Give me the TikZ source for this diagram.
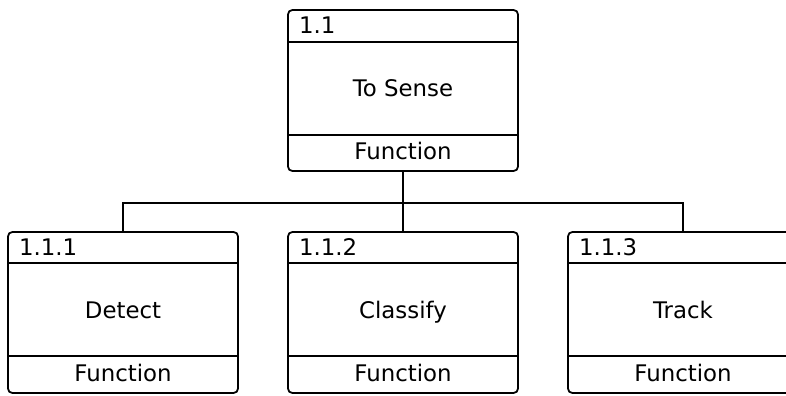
\documentclass[tikz,border=0pt]{standalone}
\usepackage{fontspec}
\setmainfont{DejaVu Sans}
\usepackage{tikz}
\usetikzlibrary{positioning}

\tikzset{
  func/.style={draw, rounded corners=2.5pt, line width=1pt,
    minimum width=4.6cm, minimum height=3.22cm, text height=1.7ex, text depth=0.5ex},
  tag/.style={anchor=west, inner sep=0pt},
  kind/.style={inner sep=0pt, text height=1.7ex, text depth=0.5ex}
}

\begin{document}
\begin{tikzpicture}[every node/.style={font=\fontsize{13}{15}\selectfont}, line width=1pt]
  \clip (0, 0) rectangle (15.72, 7.9);
  % the parent function
  \node [func] (s) at (8.06, 6.09) {To Sense};
  \draw ([yshift=-0.66cm] s.north west) -- ([yshift=-0.66cm] s.north east);
  \draw ([yshift=0.74cm] s.south west) -- ([yshift=0.74cm] s.south east);
  \node [tag] (s-id) at ([xshift=0.22cm, yshift=-0.33cm] s.north west) {1.1};
  \node [kind] (s-kind) at ([yshift=0.36cm] s.south) {Function};
  % the three children
  \node [func] (d) at (2.46, 1.65) {Detect};
  \draw ([yshift=-0.64cm] d.north west) -- ([yshift=-0.64cm] d.north east);
  \draw ([yshift=0.76cm] d.south west) -- ([yshift=0.76cm] d.south east);
  \node [tag] (d-id) at ([xshift=0.22cm, yshift=-0.32cm] d.north west) {1.1.1};
  \node [kind] (d-kind) at ([yshift=0.36cm] d.south) {Function};
  \node [func] (c) at (8.06, 1.65) {Classify};
  \draw ([yshift=-0.64cm] c.north west) -- ([yshift=-0.64cm] c.north east);
  \draw ([yshift=0.76cm] c.south west) -- ([yshift=0.76cm] c.south east);
  \node [tag] (c-id) at ([xshift=0.22cm, yshift=-0.32cm] c.north west) {1.1.2};
  \node [kind] (c-kind) at ([yshift=0.36cm] c.south) {Function};
  \node [func] (t) at (13.66, 1.65) {Track};
  \draw ([yshift=-0.64cm] t.north west) -- ([yshift=-0.64cm] t.north east);
  \draw ([yshift=0.76cm] t.south west) -- ([yshift=0.76cm] t.south east);
  \node [tag] (t-id) at ([xshift=0.22cm, yshift=-0.32cm] t.north west) {1.1.3};
  \node [kind] (t-kind) at ([yshift=0.36cm] t.south) {Function};
  % tree lines
  \draw (s.south) -- (c.north);
  \draw (s.south) -- ++(0, -0.62) -| (d.north);
  \draw (s.south) -- ++(0, -0.62) -| (t.north);
\end{tikzpicture}
\end{document}
